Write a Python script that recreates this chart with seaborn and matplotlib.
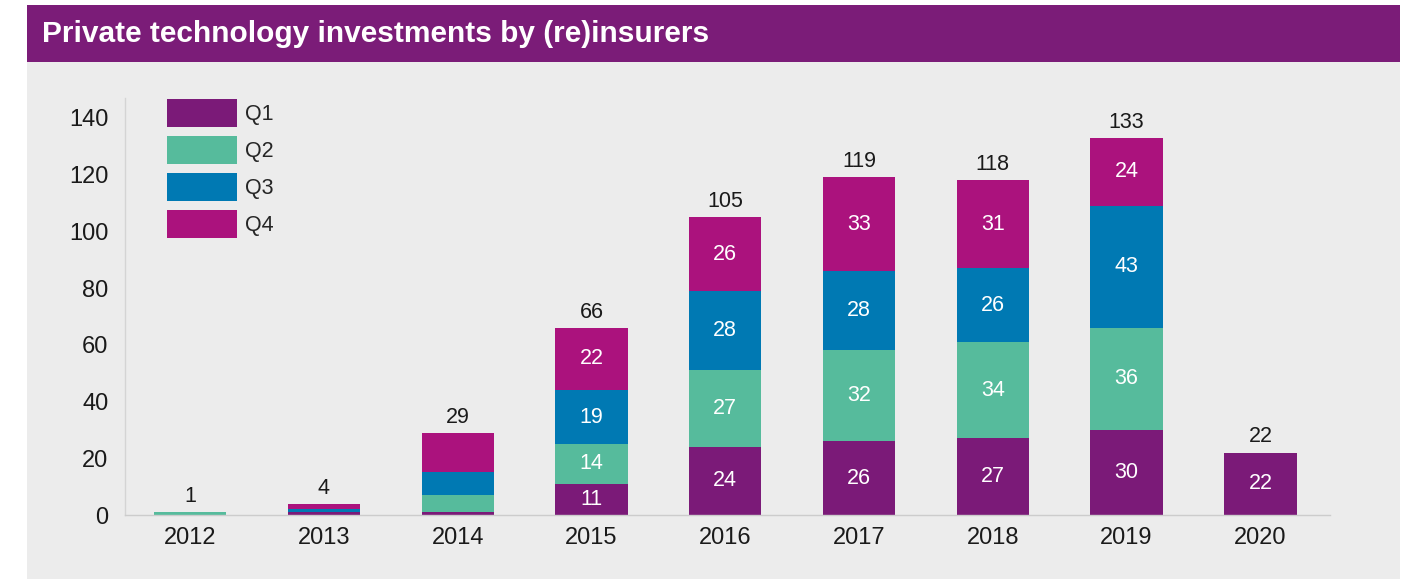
import matplotlib
matplotlib.use("Agg")
import matplotlib.pyplot as plt
import seaborn as sns
import pandas as pd
import numpy as np
from matplotlib.patches import Rectangle, Patch

years = ["2012", "2013", "2014", "2015", "2016", "2017", "2018", "2019", "2020"]
q1 = [0, 1, 1, 11, 24, 26, 27, 30, 22]
q2 = [1, 0, 6, 14, 27, 32, 34, 36, 0]
q3 = [0, 1, 8, 19, 28, 28, 26, 43, 0]
q4 = [0, 2, 14, 22, 26, 33, 31, 24, 0]
totals = [1, 4, 29, 66, 105, 119, 118, 133, 22]
series_names = ["Q1", "Q2", "Q3", "Q4"]
colors = ["#7b1a78", "#56bb9c", "#0079b3", "#ab127d"]
title = "Private technology investments by (re)insurers"

sns.set_theme(style="white")
plt.rcParams["font.family"] = ["Liberation Sans", "DejaVu Sans"]

W, H = 1413, 579
fig = plt.figure(figsize=(W / 100, H / 100), dpi=100, facecolor="white")

# panel background and title band
fig.patches.append(Rectangle((27 / W, 0), (1400 - 27) / W, (579 - 5) / H,
                             transform=fig.transFigure, facecolor="#ececec",
                             edgecolor="none", zorder=-10))
fig.patches.append(Rectangle((27 / W, (579 - 62) / H), (1400 - 27) / W, 57 / H,
                             transform=fig.transFigure, facecolor="#7b1c78",
                             edgecolor="none", zorder=-9))
fig.text(42 / W, (579 - 34) / H, title, color="white", fontsize=21.5,
         fontweight="bold", va="center", ha="left", zorder=2)

ax = fig.add_axes([125 / W, (579 - 515) / H, (1330 - 125) / W, (515 - 98) / H])
ax.set_zorder(5)
ax.set_facecolor("#ececec")

df = pd.DataFrame({"year": years, "Q1": q1, "Q2": q2, "Q3": q3, "Q4": q4})
cum = df[series_names].cumsum(axis=1)

# draw cumulative layers from top down
for i in range(3, -1, -1):
    sns.barplot(x=df["year"], y=cum[series_names[i]], color=colors[i],
                width=0.54, ax=ax, saturation=1, edgecolor="none",
                order=years, zorder=2)

vals = [q1, q2, q3, q4]
for j in range(len(years)):
    base = 0
    for i in range(4):
        v = vals[i][j]
        if v >= 10 and totals[j] > 30 or (totals[j] <= 30 and v == totals[j] and v >= 10):
            ax.text(j, base + v / 2, str(v), ha="center", va="center",
                    color="white", fontsize=15.5, zorder=3)
        base += v
    ax.text(j, totals[j] + 1.8, str(totals[j]), ha="center", va="bottom",
            color="#1a1a1a", fontsize=15.5, zorder=3)

ax.set_xlim(-0.486, 8.52)
ax.set_ylim(0, 147)
ax.set_yticks(range(0, 141, 20))
ax.set_xlabel("")
ax.set_ylabel("")
ax.tick_params(axis="both", length=0, labelsize=17, colors="#1a1a1a")
ax.tick_params(axis="y", pad=12)
ax.tick_params(axis="x", pad=9)
for s in ["top", "right"]:
    ax.spines[s].set_visible(False)
ax.spines["left"].set_color("#d4d4d4")
ax.spines["bottom"].set_color("#cccccc")
ax.spines["left"].set_linewidth(1)
ax.spines["bottom"].set_linewidth(1)

handles = [Patch(facecolor=c, edgecolor="none") for c in colors]
leg = ax.legend(handles, series_names, loc="upper left",
                bbox_to_anchor=(0.0184, 1.044), frameon=False, fontsize=15.5,
                handlelength=3.25, handleheight=1.65, labelspacing=0.4,
                handletextpad=0.4, borderpad=0.4)

fig.savefig("out.png", dpi=100, facecolor="white")
